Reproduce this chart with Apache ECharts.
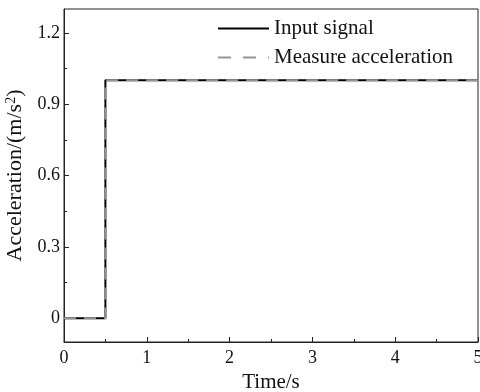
<!DOCTYPE html>
<html>
<head>
<meta charset="utf-8">
<script src="https://cdn.jsdelivr.net/npm/echarts@6/dist/echarts.min.js"></script>
<style>
  html, body { margin: 0; padding: 0; background: #fff; }
  #chart { width: 480px; height: 392px; }
</style>
</head>
<body>
<div id="chart"></div>
<script>
// step input: 0 until t = 0.5 s, then 1 m/s^2
const timeValues = [0, 0.5, 0.5, 5];
const inputSignal = [0, 0, 1, 1];
const measuredAccel = [0, 0, 1, 1];
const yMajorTicks = [0, 0.3, 0.6, 0.9, 1.2];
const yMinorTicks = [0.15, 0.45, 0.75, 1.05];

const font = 'Liberation Serif';
const chart = echarts.init(document.getElementById('chart'));

const pairs = (xs, ys) => xs.map((x, i) => [x, ys[i]]);

chart.setOption({
  animation: false,
  grid: {
    left: 64, right: 2, top: 9, bottom: 50,
    outerBoundsMode: 'none',
    containLabel: false,
    show: true, borderColor: '#222', borderWidth: 1
  },
  legend: {
    orient: 'vertical',
    left: 212, top: 13,
    itemWidth: 51, itemHeight: 14, itemGap: 8, textGap: 7,
    itemStyle: { opacity: 0 },
    textStyle: { fontFamily: font, fontSize: 21, color: '#111' },
    data: [
      { name: 'Input signal' },
      { name: 'Measure acceleration', lineStyle: { type: [13, 12] } }
    ]
  },
  xAxis: {
    type: 'value',
    min: 0, max: 5, interval: 1,
    name: 'Time/s',
    nameLocation: 'middle',
    nameGap: 29,
    nameTextStyle: { fontFamily: font, fontSize: 21, color: '#111' },
    axisLine: { onZero: false, lineStyle: { color: '#222', width: 1 } },
    axisTick: { inside: true, length: 5, lineStyle: { color: '#222' } },
    minorTick: { show: true, splitNumber: 2, length: 3, lineStyle: { color: '#222' } },
    axisLabel: { fontFamily: font, fontSize: 18, color: '#111', margin: 7 },
    splitLine: { show: false }
  },
  yAxis: [
    {
      type: 'value',
      min: -0.1, max: 1.3,
      position: 'left',
      name: '{a|Acceleration/(m/s}{b|2}{a|)}',
      nameLocation: 'middle',
      nameGap: 37,
      nameTextStyle: {
        rich: {
          a: { fontFamily: font, fontSize: 22, color: '#111' },
          b: { fontFamily: font, fontSize: 14, color: '#111', padding: [0, 0, 9, 0] }
        }
      },
      axisLine: { show: true, onZero: false, lineStyle: { color: '#222', width: 1 } },
      axisTick: { show: true, inside: true, length: 5, customValues: yMajorTicks, lineStyle: { color: '#222' } },
      axisLabel: {
        fontFamily: font, fontSize: 18, color: '#111', margin: 4,
        customValues: yMajorTicks,
        formatter: v => (Math.abs(v) < 1e-9 ? '0' : v.toFixed(1))
      },
      splitLine: { show: false }
    },
    {
      type: 'value',
      min: -0.1, max: 1.3,
      position: 'left',
      offset: 0,
      axisLine: { show: false, onZero: false },
      axisTick: { show: true, inside: true, length: 3, customValues: yMinorTicks, lineStyle: { color: '#222' } },
      axisLabel: { show: false },
      splitLine: { show: false }
    }
  ],
  series: [
    {
      name: 'Input signal',
      type: 'line',
      data: pairs(timeValues, inputSignal),
      symbol: 'none',
      lineStyle: { color: '#000', width: 2 },
      itemStyle: { color: '#000' }
    },
    {
      name: 'Measure acceleration',
      type: 'line',
      data: pairs(timeValues, measuredAccel),
      symbol: 'none',
      lineStyle: { color: '#959595', width: 2, type: [12, 8] },
      itemStyle: { color: '#959595' }
    }
  ]
});
</script>
</body>
</html>
